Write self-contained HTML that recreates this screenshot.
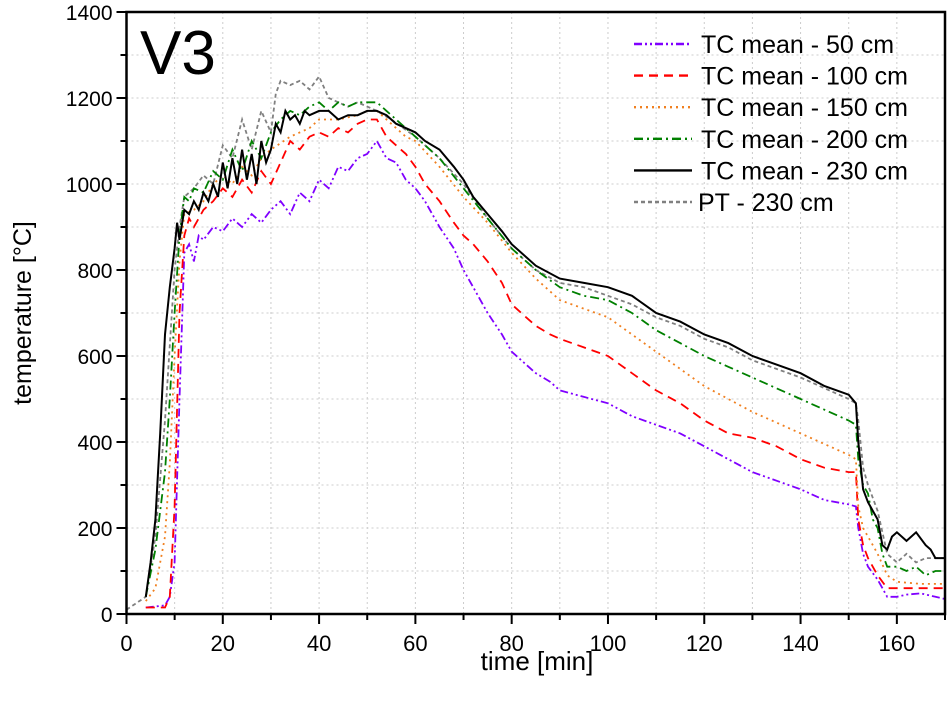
<!DOCTYPE html>
<html><head><meta charset="utf-8">
<style>
html,body{margin:0;padding:0;background:#fff;}
svg{display:block;font-family:"Liberation Sans",Arial,sans-serif;}
</style></head>
<body>
<svg id="chart" width="947" height="702" viewBox="0 0 947 702" xmlns="http://www.w3.org/2000/svg">
<g id="grid"></g>
<g id="series"></g>
<g id="axes"></g>
<text x="140" y="74" font-size="62" fill="#000">V3</text>
<g id="legend"></g>
<text x="537" y="670" font-size="26" text-anchor="middle">time [min]</text>
<text transform="translate(31,313) rotate(-90)" font-size="25" text-anchor="middle">temperature [°C]</text>
</svg>
<script>
const xTicks=[0,20,40,60,80,100,120,140,160];
const yTicks=[0,200,400,600,800,1000,1200,1400];
const t50=[4,8,9,10,11,12,13,14,15,16,18,20,22,24,26,28,30,32,34,36,38,40,42,44,46,48,50,52,54,56,58,60,62,65,68,70,72,75,78,80,83,85,88,90,95,100,105,110,115,120,125,130,135,140,145,150,151.5,152,153,154,156,158,160,162,165,168,170];
const v50=[15,20,40,120,500,840,860,820,880,870,900,890,920,900,930,910,940,960,930,980,960,1010,990,1040,1030,1060,1070,1100,1060,1050,1010,990,960,900,850,800,760,700,650,610,580,560,540,520,505,490,460,440,420,390,360,330,310,290,265,255,250,200,140,110,80,40,40,45,48,40,35];
const t100=[4,8,9,10,11,12,13,14,16,18,20,22,24,26,28,30,32,34,36,38,40,42,44,46,48,50,52,54,56,58,60,62,65,68,70,72,75,78,80,83,85,88,90,95,100,105,110,115,120,125,130,135,140,145,150,151.5,152,153,154,156,158,160,165,170];
const v100=[15,15,40,250,700,880,920,900,940,960,990,970,1010,980,1030,1000,1050,1100,1080,1110,1120,1110,1130,1120,1140,1150,1150,1110,1090,1070,1040,1000,960,910,880,860,820,770,720,690,670,650,640,620,600,560,520,490,450,420,410,390,360,340,330,330,220,160,130,90,60,60,60,60];
const t150=[4,6,8,9,10,11,12,14,16,18,20,22,24,26,28,30,34,38,40,44,48,50,52,55,58,60,65,70,75,80,85,90,95,100,105,110,115,120,125,130,135,140,145,150,151.5,152,153,154,156,158,160,165,170];
const v150=[30,60,180,350,600,820,930,940,960,1000,1020,1000,1040,1020,1060,1080,1110,1130,1150,1150,1160,1170,1170,1140,1110,1100,1040,970,910,840,780,730,710,690,650,610,570,530,500,470,445,420,395,370,360,250,200,180,140,90,75,70,70];
const t200=[4,6,8,9,10,11,12,13,14,16,18,20,22,24,26,28,30,32,34,36,38,40,42,44,46,48,50,52,54,56,60,65,70,75,80,85,90,95,100,105,110,115,120,125,130,135,140,145,150,151.5,152,153,154,155,156,157,158,160,162,164,166,168,170];
const v200=[40,150,330,500,700,880,970,960,990,980,1030,1010,1080,1030,1100,1060,1120,1150,1170,1160,1180,1190,1170,1190,1180,1190,1190,1190,1170,1150,1110,1060,990,920,850,800,760,740,730,700,660,630,600,575,550,525,500,475,450,440,360,300,280,220,200,140,110,110,100,110,90,100,100];
const t230=[4,5,6,7,8,9,10,10.5,11,12,13,14,15,16,17,18,19,20,21,22,23,24,25,26,27,28,29,30,31,32,33,34,35,36,37,38,40,42,44,46,48,50,52,54,56,58,60,62,65,68,70,72,75,78,80,85,90,95,100,105,110,115,120,125,130,135,140,145,150,151.5,152,153,154,155,156,157,158,159,160,162,164,166,167,168,170];
const v230=[40,120,220,420,650,760,850,910,870,940,930,960,940,980,960,1000,970,1050,990,1060,1000,1080,1010,1070,1000,1100,1050,1080,1140,1120,1170,1150,1160,1140,1170,1160,1170,1170,1150,1160,1160,1170,1170,1160,1140,1130,1120,1100,1080,1040,1010,970,930,890,860,810,780,770,760,740,700,680,650,630,600,580,560,530,510,490,400,290,260,240,220,160,150,180,190,170,190,160,150,130,130];
const tPT=[0,4,6,8,10,11,12,14,16,18,20,22,24,26,28,30,31,32,34,36,38,40,42,44,46,48,50,52,55,60,65,70,75,80,85,90,95,100,105,110,115,120,125,130,135,140,145,150,151.5,152,153,154,156,158,160,162,164,166,168,170];
const vPT=[10,40,180,450,800,900,970,990,1020,1000,1090,1060,1150,1080,1170,1120,1210,1240,1230,1240,1220,1250,1200,1190,1180,1190,1180,1170,1150,1110,1060,1000,920,850,800,770,760,740,720,690,670,640,620,590,570,550,525,500,490,450,340,300,240,140,120,140,120,130,130,130];

const X0=126.5,X1=945,Y0=614,Y1=12;
const sx=t=>X0+(t/170)*(X1-X0);
const sy=v=>Y0-(v/1400)*(Y0-Y1);
const NS="http://www.w3.org/2000/svg";
function mk(tag,parent){const e=document.createElementNS(NS,tag);parent.appendChild(e);return e;}
const grid=document.getElementById('grid'),axes=document.getElementById('axes'),ser=document.getElementById('series'),leg=document.getElementById('legend');
for(let t=10;t<170;t+=10){const l=mk('line',grid);


l.setAttribute('x1',sx(t));l.setAttribute('x2',sx(t));l.setAttribute('y1',Y1);l.setAttribute('y2',Y0);l.setAttribute('stroke','#ccc');l.setAttribute('stroke-dasharray','2,3');}
for(let v=100;v<1400;v+=100){const l=mk('line',grid);


l.setAttribute('x1',X0);l.setAttribute('x2',X1);l.setAttribute('y1',sy(v));l.setAttribute('y2',sy(v));l.setAttribute('stroke','#ccc');l.setAttribute('stroke-dasharray','2,3');}
const series=[[t50,v50,'#8000ff','8,3,2,3,2,3','tc-50cm'],[t100,v100,'#ff0000','9,6','tc-100cm'],[t150,v150,'#f08020','2,4','tc-150cm'],[t200,v200,'#008000','9,4,2,4','tc-200cm'],[t230,v230,'#000','','tc-230cm'],[tPT,vPT,'#808080','4,3','pt-230cm']];
const order=[5,0,1,2,3,4];
order.forEach(i=>{const s=series[i];const p=mk('path',ser);


p.setAttribute('d',s[0].map((t,k)=>(k?'L':'M')+sx(t).toFixed(1)+','+sy(s[1][k]).toFixed(1)).join(''));
p.setAttribute('fill','none');p.setAttribute('stroke',s[2]);p.setAttribute('stroke-width',i==4?2:1.8);if(s[3])p.setAttribute('stroke-dasharray',s[3]);});
const fr=mk('rect',axes);


fr.setAttribute('x',X0);fr.setAttribute('y',Y1);fr.setAttribute('width',X1-X0);fr.setAttribute('height',Y0-Y1);fr.setAttribute('fill','none');fr.setAttribute('stroke','#000');fr.setAttribute('stroke-width',2.5);
for(let t=0;t<=170;t+=10){const l=mk('line',axes);


l.setAttribute('x1',sx(t));l.setAttribute('x2',sx(t));l.setAttribute('y1',Y0);l.setAttribute('y2',Y0+(t%20?6:10));l.setAttribute('stroke','#000');l.setAttribute('stroke-width',2);}
xTicks.forEach(t=>{const e=mk('text',axes);


e.setAttribute('x',sx(t));e.setAttribute('y',Y0+37);e.setAttribute('text-anchor','middle');e.setAttribute('font-size','22');e.textContent=t;});
for(let v=0;v<=1400;v+=100){const l=mk('line',axes);


l.setAttribute('x1',X0);l.setAttribute('x2',X0-(v%200?6:10));l.setAttribute('y1',sy(v));l.setAttribute('y2',sy(v));l.setAttribute('stroke','#000');l.setAttribute('stroke-width',2);}
yTicks.forEach(v=>{const e=mk('text',axes);


e.setAttribute('x',X0-14);e.setAttribute('y',sy(v)+8);e.setAttribute('text-anchor','end');e.setAttribute('font-size','21');e.textContent=v;});
const labels=['TC mean - 50 cm','TC mean - 100 cm','TC mean - 150 cm','TC mean - 200 cm','TC mean - 230 cm','PT - 230 cm'];
labels.forEach((lab,i)=>{const s=series[i];const y=44+i*31.6;
const l=mk('line',leg);


l.setAttribute('x1',634);l.setAttribute('x2',692);l.setAttribute('y1',y);l.setAttribute('y2',y);l.setAttribute('stroke',s[2]);l.setAttribute('stroke-width',2.4);if(s[3])l.setAttribute('stroke-dasharray',s[3]);
const e=mk('text',leg);


e.setAttribute('x',i==5?698:701);e.setAttribute('y',y+9);e.setAttribute('font-size','25');e.textContent=lab;});
</script>
</body></html>
